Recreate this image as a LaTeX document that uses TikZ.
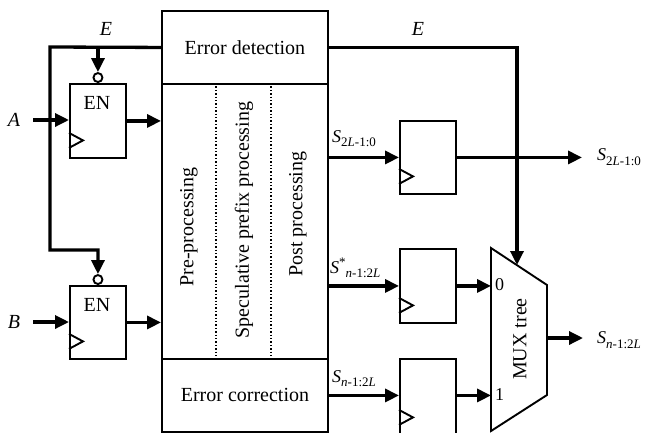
\documentclass[tikz,border=0pt]{standalone}
\usepackage{fontspec}
\setmainfont{Liberation Serif}
\usetikzlibrary{arrows.meta}
% small raised/lowered index text for the signal names
\newcommand\lsub[1]{\raisebox{-4.5pt}{\fontsize{13}{15}\selectfont #1}}
\newcommand\lsup[1]{\raisebox{7pt}{\fontsize{13}{15}\selectfont #1}}
\newcommand\sig[1]{{\fontsize{18}{20}\selectfont\textit{S}}\lsub{#1}}

\begin{document}
\begin{tikzpicture}[x=1pt,y=-1pt,
  box/.style={draw,line width=1.9pt,inner sep=0pt,anchor=north west,
              font=\fontsize{20}{24}\selectfont},
  wire/.style={line width=3.3pt},
  arr/.style={wire,-{Triangle[length=14pt,width=13pt]}},
  lbl/.style={inner sep=0pt,font=\fontsize{20}{24}\selectfont},
  slbl/.style={inner sep=0pt,font=\fontsize{18}{20}\selectfont},
  bubble/.style={circle,draw,line width=1.9pt,minimum size=9pt,inner sep=0pt,anchor=south},
  clk/.style={line width=1.9pt},
  sep/.style={line width=1.4pt,dotted}]

\useasboundingbox (0,0) rectangle (645,432);

% central datapath block
\node[box,minimum width=166pt,minimum height=73pt] (det) at (161,10) {Error detection};
\node[box,minimum width=166pt,minimum height=275pt] (mid) at (161,83) {};
\node[box,minimum width=166pt,minimum height=73pt] (cor) at (161,358) {Error correction};
\draw[sep] (216,83) coordinate (d1) -- (d1 |- mid.south);
\draw[sep] (271,83) coordinate (d2) -- (d2 |- mid.south);
\node[lbl,rotate=90] (pre) at (189,227) {Pre-processing};
\node[lbl,rotate=90] (spp) at (244,220) {Speculative prefix processing};
\node[lbl,rotate=90] (post) at (298,214) {Post processing};

% input flip-flops with enable
\node[box,minimum width=56pt,minimum height=74pt] (ffa) at (69,83) {};
\node[box,minimum width=56pt,minimum height=73pt] (ffb) at (69,285) {};
\node[lbl] (ena) at (97,103) {EN};
\node[lbl] (enb) at (97,305) {EN};
\node[bubble] (bua) at (ffa.north) {};
\node[bubble] (bub) at (ffb.north) {};

% output registers
\node[box,minimum width=56pt,minimum height=73pt] (r1) at (399,120) {};
\node[box,minimum width=56pt,minimum height=74pt] (r2) at (399,248) {};
\node[box,minimum width=56pt,minimum height=76pt] (r3) at (399,358) {};

% clock inputs
\foreach \r in {ffa,ffb,r1,r2,r3}
  \draw[clk] ([yshift=11pt]\r.south west) -- ++(14pt,7.5pt) -- ++(-14pt,7.5pt);

% MUX tree
\coordinate (m1) at (491,248);
\coordinate (m2) at (547,285);
\coordinate (m3) at (547,395);
\coordinate (m4) at (491,431);
\draw[line width=1.9pt] (m1) -- (m2) -- (m3) -- (m4) -- cycle;
\node[lbl,rotate=90] (mux) at (520,339) {MUX tree};
\node[slbl,anchor=west] (in0) at (495,285) {0};
\node[slbl,anchor=west] (in1) at (495,395) {1};
\coordinate (msel) at (517,265);
\coordinate (mout) at (547,338);

% primary inputs
\node[lbl] (A) at (14,120) {\textit{A}};
\node[lbl] (B) at (14,322) {\textit{B}};
\coordinate (ain) at (33,120);
\coordinate (bin) at (33,322);
\draw[arr] (ain) -- (ain -| ffa.west);
\draw[arr] (bin) -- (bin -| ffb.west);
\draw[arr] (ffa.east) -- (ffa.east -| mid.west);
\draw[arr] (ffb.east) -- (ffb.east -| mid.west);

% error flag E to the enables
\coordinate (eL) at (50,47);
\coordinate (eJ) at (50,250);
\node[lbl] (E1) at (106,29) {\textit{E}};
\draw[arr] (det.west) -- (eL) -- (eJ) -| (bub.north);
\draw[arr] (eL -| bua) -- (bua.north);

% error flag E to the MUX select
\node[lbl] (E2) at (418,29) {\textit{E}};
\draw[arr] (det.east) -| (msel);

% sum paths
\draw[arr] (mid.east |- r1.west) -- (r1.west);
\draw[arr] (mid.east |- r2.west) -- (r2.west);
\draw[arr] (cor.east) -- (cor.east -| r3.west);
\node[inner sep=0pt,anchor=south west] (s1) at (332,147) {\sig{2\textit{L}-1:0}};
\node[inner sep=0pt,anchor=south west] (s2) at (330,278) {{\fontsize{18}{20}\selectfont\textit{S}}\lsup{*}\lsub{\textit{n}-1:2\textit{L}}};
\node[inner sep=0pt,anchor=south west] (s3) at (332,387) {\sig{\textit{n}-1:2\textit{L}}};

\coordinate (o1) at (582,155);
\draw[arr] (r1.east) -- (r1.east -| o1);
\draw[arr] (r2.east) -- (r2.east -| m1);
\draw[arr] (r3.east |- cor.east) -- (cor.east -| m1);
\node[inner sep=0pt,anchor=west] (s4) at (597,157) {\sig{2\textit{L}-1:0}};

\coordinate (o2) at (583,338);
\draw[arr] (mout) -- (o2);
\node[inner sep=0pt,anchor=west] (s5) at (597,340) {\sig{\textit{n}-1:2\textit{L}}};
\end{tikzpicture}
\end{document}
